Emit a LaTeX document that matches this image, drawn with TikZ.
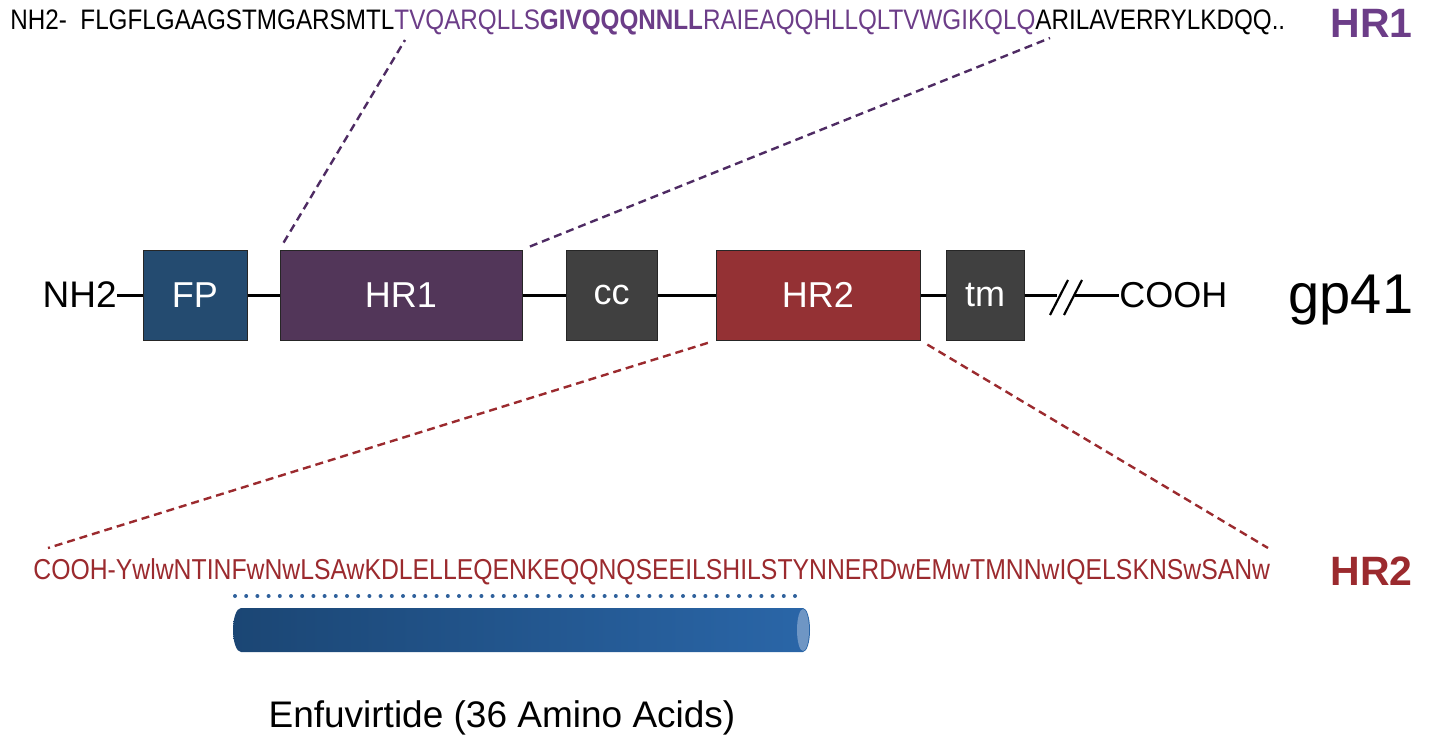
\documentclass[tikz,border=0pt]{standalone}
\usepackage{fontspec}
\setmainfont{Liberation Sans}
\newfontfamily\seqfont[FakeStretch=0.86]{Liberation Sans}
\usetikzlibrary{positioning,calc}
\definecolor{fpblue}{HTML}{244B70}
\definecolor{hrpurple}{HTML}{523659}
\definecolor{seqpurple}{HTML}{6C3D88}
\definecolor{linkpurple}{HTML}{4E2B63}
\definecolor{boxgrey}{HTML}{404040}
\definecolor{hrred}{HTML}{943134}
\definecolor{seqred}{HTML}{9B2A2E}
\definecolor{cylleft}{HTML}{1B4674}
\definecolor{cylright}{HTML}{2A66A8}
\definecolor{cylcap}{HTML}{6F96C4}
\definecolor{dotblue}{HTML}{2F619C}

\begin{document}
\begin{tikzpicture}[x=0.5pt, y=-0.5pt,
  font=\fontsize{18}{20}\selectfont,
  dombox/.style={draw=black!85, line width=0.5pt, inner sep=0pt, minimum height=45pt, text=white},
  seq/.style={font=\seqfont\fontsize{14.1}{16}\selectfont, inner sep=0pt, anchor=base west},
  tag/.style={font=\fontsize{20.5}{22}\selectfont\bfseries, inner sep=0pt, anchor=base west},
  chain/.style={draw=black, line width=1.5pt},
  zoomlink/.style={dash pattern=on 4pt off 2.5pt, line width=1.2pt, shorten <=4pt}]
\useasboundingbox (0,0) rectangle (1431,738);
% domains
\node[dombox, fill=fpblue, minimum width=52pt] (fp) at (195,295) {FP};
\node[dombox, fill=hrpurple, minimum width=121pt] (hr1) at (401,295) {HR1};
\node[dombox, fill=boxgrey, minimum width=45.5pt] (cc) at (611.5,295) {cc};
\node[dombox, fill=hrred, minimum width=102pt] (hr2) at (818,295) {HR2};
\node[dombox, fill=boxgrey, minimum width=39pt] (tm) at (985,295) {tm};
\node[anchor=east, inner sep=0pt, font=\fontsize{18.5}{20}\selectfont] (nh2) at (117,295) {NH2};
\node[anchor=west, inner sep=0pt] (cooh) at (1119,295) {COOH};
\node[inner sep=0pt, font=\fontsize{28}{30}\selectfont] (gp41) at (1351,300) {gp41};
% chain with break
\coordinate (brkA) at (1057,295);
\coordinate (brkB) at (1075,295);
\draw[chain] (nh2.east) -- (fp.west) (fp.east) -- (hr1.west) (hr1.east) -- (cc.west)
  (cc.east) -- (hr2.west) (hr2.east) -- (tm.west) (tm.east) -- (brkA) (brkB) -- (cooh.west);
\draw[line width=1.1pt] ($(brkA)+(-7,20)$) -- ($(brkA)+(11,-15)$)
  ($(brkB)+(-11,20)$) -- ($(brkB)+(7,-15)$);
% sequences
\node[seq] (seq1) at (10,30) {NH2-\ \ FLGFLGAAGSTMGARSMTL\textcolor{seqpurple}{TVQARQLLS\textbf{GIVQQQNNLL}RAIEAQQHLLQLTVWGIKQLQ}ARILAVERRYLKDQQ..};
\node[tag, text=seqpurple] (tag1) at (1330,38) {HR1};
\node[seq, text=seqred, font=\seqfont\fontsize{14.4}{16}\selectfont] (seq2) at (33,579) {COOH-YwlwNTINFwNwLSAwKDLELLEQENKEQQNQSEEILSHILSTYNNERDwEMwTMNNwIQELSKNSwSANw};
\node[tag, text=seqred] (tag2) at (1330,585) {HR2};
\coordinate (hr1a) at (405,40);
\coordinate (hr1b) at (1050,38);
\coordinate (hr2a) at (48,548);
\coordinate (hr2b) at (1268,548);
% links
\draw[zoomlink, linkpurple] (hr1.north west) -- (hr1a);
\draw[zoomlink, linkpurple] (hr1.north east) -- (hr1b);
\draw[zoomlink, seqred] (hr2.south west) -- (hr2a);
\draw[zoomlink, seqred] (hr2.south east) -- (hr2b);
% enfuvirtide
\coordinate (dotA) at (235,596);
\coordinate (dotB) at (805,596);
\draw[dotblue, line width=2pt, line cap=round, dash pattern=on 0pt off 5.6pt] (dotA) -- (dotB);
\shade[left color=cylleft, right color=cylright] (241,608) -- (803,608)
  arc[start angle=270, end angle=450, x radius=7, y radius=22] -- (241,652)
  arc[start angle=90, end angle=270, x radius=8, y radius=22] -- cycle;
\fill[cylcap] (803,630) ellipse[x radius=6, y radius=21];
\node[inner sep=0pt, font=\fontsize{18.5}{20}\selectfont] (enf) at (502,718) {Enfuvirtide (36 Amino Acids)};
\end{tikzpicture}
\end{document}
